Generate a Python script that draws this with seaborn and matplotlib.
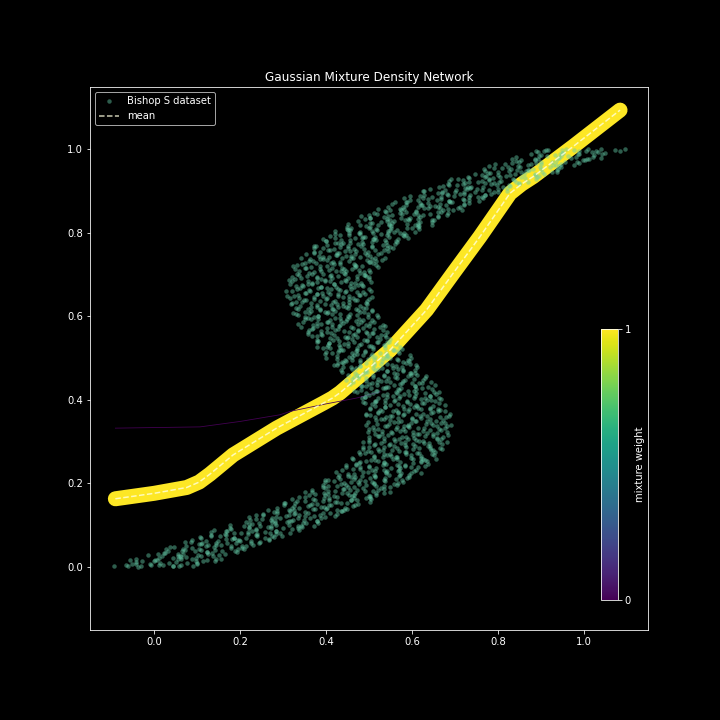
import matplotlib
matplotlib.use("Agg")
import matplotlib.pyplot as plt
import seaborn as sns
import numpy as np
import pandas as pd
from matplotlib.cm import ScalarMappable
from matplotlib.colors import Normalize

# ---------------- data ----------------
# Bishop S dataset points, in thousandths (part 1)
dataset_x_milli_1 = [
    -93, -61, -38, -7, 12, 44, 58, 91,
    -52, -43, 0, 14, 50, 62, 99, 113,
    -41, 3, 11, 55, 63, 97, 124, 155,
    9, 22, 60, 67, 103, 134, 138, 165,
    27, 64, 73, 104, 124, 142, 188, 210,
    47, 74, 110, 121, 145, 179, 204, 231,
    86, 112, 121, 169, 194, 201, 225, 247,
    108, 132, 167, 185, 213, 240, 267, 280,
    132, 164, 187, 218, 237, 269, 283, 316,
    170, 179, 222, 236, 272, 284, 321, 335,
    177, 221, 229, 273, 281, 315, 342, 373,
    224, 237, 275, 282, 318, 349, 353, 380,
    237, 274, 283, 314, 334, 352, 398, 420,
    253, 280, 316, 327, 351, 385, 410, 437,
    287, 313, 322, 370, 395, 402, 426, 448,
    303, 327, 362, 380, 408, 435, 462, 475,
    320, 352, 375, 406, 425, 457, 471, 504,
    352, 361, 404, 418, 454, 466, 503, 517,
    352, 396, 404, 448, 456, 490, 517, 548,
    392, 405, 443, 450, 486, 517, 521, 548,
    397, 434, 443, 474, 494, 512, 558, 580,
    405, 432, 468, 479, 503, 537, 562, 589,
    431, 457, 466, 514, 539, 546, 570, 592,
    438, 462, 497, 515, 543, 570, 597, 610,
    446, 478, 501, 532, 551, 583, 597, 630,
    469, 478, 521, 535, 571, 583, 620, 634,
    460, 504, 512, 556, 564, 598, 625, 656,
    491, 504, 542, 549, 585, 616, 620, 647,
    487, 524, 533, 564, 584, 602, 648, 670,
    485, 512, 548, 559, 583, 617, 642, 669,
    501, 527, 536, 584, 609, 616, 640, 662,
    499, 523, 558, 576, 604, 631, 658, 671,
    498, 530, 553, 584, 603, 635, 649, 682,
    512, 521, 564, 578, 614, 626, 663, 677,
    494, 538, 546, 590, 598, 632, 659, 690,
    516, 529, 567, 574, 610, 641, 645, 672,
    503, 540, 549, 580, 600, 618, 664, 686,
    493, 520, 556, 567, 591, 625, 650, 677,
    503, 525, 538, 581, 611, 614, 643, 660,
    491, 515, 550, 568, 596, 623, 650, 663,
    483, 515, 538, 569, 588, 620, 634, 667,
    490, 499, 542, 556, 592, 604, 641, 655,
    466, 510, 518, 562, 570, 604, 631, 662,
    481, 494, 532, 539, 575, 606, 610, 637,
    462, 499, 508, 539, 559, 577, 623, 645,
    447, 474, 510, 521, 545, 579, 604, 631,
    451, 477, 486, 534, 559, 566, 590, 612,
    436, 460, 495, 513, 541, 568, 595, 608,
    425, 457, 480, 511, 530, 562, 576, 609,
    428, 437, 480, 494, 530, 542, 579, 593,
    401, 445, 453, 497, 505, 539, 566, 597,
    414, 427, 465, 472, 508, 539, 543, 570,
    394, 431, 440, 471, 491, 509, 555, 577,
    378, 405, 441, 452, 476, 510, 535, 562,
    381, 407, 416, 464, 489, 496, 520, 542,
    367, 391, 426, 444, 472, 499, 526, 539,
    357, 389, 412, 443, 462, 494, 508, 541,
    361, 370, 413, 427, 463, 475, 512, 526,
    336, 380, 388, 432, 440, 474, 501, 532,
    352, 365, 403, 410, 446, 477, 481, 508,
    336, 373, 382, 413, 433, 451, 497, 519,
    323, 350, 386, 397, 421, 455, 480, 507,
    331, 357, 366, 414, 439, 446, 470, 492,
    321, 345, 380, 398, 426, 453, 480, 493,
    316, 348, 371, 402, 421, 453, 467, 500,
    326, 335, 378, 392, 428, 440, 477, 491,
    308, 352, 360, 404, 412, 446, 473, 504,
    330, 343, 381, 388, 424, 455, 459, 486,
    321, 358, 367, 398, 418, 436, 482, 504,
    315, 342, 378, 389, 413, 447, 472, 499,
    333, 355, 368, 411, 441, 444, 473, 490,
    329, 353, 388, 406, 434, 461, 488, 501,
    332, 364, 387, 418, 437, 469, 483, 516,
    351, 360, 403, 417, 453, 465, 502, 516,
    342, 386, 394, 438, 446, 480, 507, 538,
    373, 386, 424, 431, 467, 498, 502, 529,
    373, 410, 419, 450, 470, 488, 534, 556,
    376, 403, 439, 450, 474, 508, 533, 560,
    401, 427, 436, 484, 509, 516, 540, 562,
    409, 433, 468, 486, 514, 541, 568, 581,
    422, 454, 477, 508, 527, 559, 573, 606,
    450, 459, 502, 516, 552, 564, 601, 615,
    450, 494, 502, 546, 554, 588, 615, 646,
    490, 503, 541, 548, 584, 615, 619, 646,
    499, 536, 545, 576, 596, 614, 660, 682,
    511, 538, 574, 585, 609, 643, 668, 695,
    545, 571, 580, 628, 653, 660, 684, 706,
    561, 585, 620, 638, 666, 693, 720, 733,
    582, 614, 637, 668, 687, 719, 733, 766,
    618, 627, 670, 684, 720, 732, 769, 783,
    625, 669, 677, 721, 729, 763, 790, 821,
    672, 685, 723, 730, 766, 797, 801, 828,
    687, 724, 733, 764, 784, 802, 848, 870,
    706, 733, 769, 780, 804, 838, 863, 890,
    746, 772, 781, 829, 854, 861, 885, 907,
    767, 791, 826, 844, 872, 899, 926, 939,
    792, 824, 847, 878, 897, 929, 943, 976,
    833, 842, 885, 899, 935, 947, 984, 998,
    843, 887, 895, 939, 947, 981, 1008, 1039,
    894, 907, 945, 952, 988, 1019, 1023, 1050,
    912, 949, 958, 989, 1009, 1027, 1073, 1095,
]
dataset_y_milli_1 = [
    3, 2, 0, 4, 4, 1, 1, 2,
    7, 11, 14, 9, 12, 5, 10, 13,
    20, 16, 22, 18, 24, 21, 17, 19,
    32, 34, 27, 30, 29, 33, 25, 31,
    43, 38, 40, 44, 36, 41, 39, 42,
    47, 51, 54, 49, 52, 45, 50, 53,
    60, 56, 62, 58, 64, 61, 57, 59,
    72, 74, 67, 70, 69, 73, 65, 71,
    83, 78, 80, 84, 76, 81, 79, 82,
    87, 91, 94, 89, 92, 85, 90, 93,
    100, 96, 102, 98, 104, 101, 97, 99,
    112, 114, 107, 110, 109, 113, 105, 111,
    123, 118, 120, 124, 116, 121, 119, 122,
    127, 131, 134, 129, 132, 125, 130, 133,
    140, 136, 142, 138, 144, 141, 137, 139,
    152, 154, 147, 150, 149, 153, 145, 151,
    163, 158, 160, 164, 156, 161, 159, 162,
    167, 171, 174, 169, 172, 165, 170, 173,
    180, 176, 182, 178, 184, 181, 177, 179,
    192, 194, 187, 190, 189, 193, 185, 191,
    203, 198, 200, 204, 196, 201, 199, 202,
    207, 211, 214, 209, 212, 205, 210, 213,
    220, 216, 222, 218, 224, 221, 217, 219,
    232, 234, 227, 230, 229, 233, 225, 231,
    243, 238, 240, 244, 236, 241, 239, 242,
    247, 251, 254, 249, 252, 245, 250, 253,
    260, 256, 262, 258, 264, 261, 257, 259,
    272, 274, 267, 270, 269, 273, 265, 271,
    283, 278, 280, 284, 276, 281, 279, 282,
    287, 291, 294, 289, 292, 285, 290, 293,
    300, 296, 302, 298, 304, 301, 297, 299,
    312, 314, 307, 310, 309, 313, 305, 311,
    323, 318, 320, 324, 316, 321, 319, 322,
    327, 331, 334, 329, 332, 325, 330, 333,
    340, 336, 342, 338, 344, 341, 337, 339,
    352, 354, 347, 350, 349, 353, 345, 351,
    363, 358, 360, 364, 356, 361, 359, 362,
    367, 371, 374, 369, 372, 365, 370, 373,
    380, 376, 382, 378, 384, 381, 377, 379,
    392, 394, 387, 390, 389, 393, 385, 391,
    403, 398, 400, 404, 396, 401, 399, 402,
    407, 411, 414, 409, 412, 405, 410, 413,
    420, 416, 422, 418, 424, 421, 417, 419,
    432, 434, 427, 430, 429, 433, 425, 431,
    443, 438, 440, 444, 436, 441, 439, 442,
    447, 451, 454, 449, 452, 445, 450, 453,
    460, 456, 462, 458, 464, 461, 457, 459,
    472, 474, 467, 470, 469, 473, 465, 471,
    483, 478, 480, 484, 476, 481, 479, 482,
    487, 491, 494, 489, 492, 485, 490, 493,
    500, 496, 502, 498, 504, 501, 497, 499,
    512, 514, 507, 510, 509, 513, 505, 511,
    523, 518, 520, 524, 516, 521, 519, 522,
    527, 531, 534, 529, 532, 525, 530, 533,
    540, 536, 542, 538, 544, 541, 537, 539,
    552, 554, 547, 550, 549, 553, 545, 551,
    563, 558, 560, 564, 556, 561, 559, 562,
    567, 571, 574, 569, 572, 565, 570, 573,
    580, 576, 582, 578, 584, 581, 577, 579,
    592, 594, 587, 590, 589, 593, 585, 591,
    603, 598, 600, 604, 596, 601, 599, 602,
    607, 611, 614, 609, 612, 605, 610, 613,
    620, 616, 622, 618, 624, 621, 617, 619,
    632, 634, 627, 630, 629, 633, 625, 631,
    643, 638, 640, 644, 636, 641, 639, 642,
    647, 651, 654, 649, 652, 645, 650, 653,
    660, 656, 662, 658, 664, 661, 657, 659,
    672, 674, 667, 670, 669, 673, 665, 671,
    683, 678, 680, 684, 676, 681, 679, 682,
    687, 691, 694, 689, 692, 685, 690, 693,
    700, 696, 702, 698, 704, 701, 697, 699,
    712, 714, 707, 710, 709, 713, 705, 711,
    723, 718, 720, 724, 716, 721, 719, 722,
    727, 731, 734, 729, 732, 725, 730, 733,
    740, 736, 742, 738, 744, 741, 737, 739,
    752, 754, 747, 750, 749, 753, 745, 751,
    763, 758, 760, 764, 756, 761, 759, 762,
    767, 771, 774, 769, 772, 765, 770, 773,
    780, 776, 782, 778, 784, 781, 777, 779,
    792, 794, 787, 790, 789, 793, 785, 791,
    803, 798, 800, 804, 796, 801, 799, 802,
    807, 811, 814, 809, 812, 805, 810, 813,
    820, 816, 822, 818, 824, 821, 817, 819,
    832, 834, 827, 830, 829, 833, 825, 831,
    843, 838, 840, 844, 836, 841, 839, 842,
    847, 851, 854, 849, 852, 845, 850, 853,
    860, 856, 862, 858, 864, 861, 857, 859,
    872, 874, 867, 870, 869, 873, 865, 871,
    883, 878, 880, 884, 876, 881, 879, 882,
    887, 891, 894, 889, 892, 885, 890, 893,
    900, 896, 902, 898, 904, 901, 897, 899,
    912, 914, 907, 910, 909, 913, 905, 911,
    923, 918, 920, 924, 916, 921, 919, 922,
    927, 931, 934, 929, 932, 925, 930, 933,
    940, 936, 942, 938, 944, 941, 937, 939,
    952, 954, 947, 950, 949, 953, 945, 951,
    963, 958, 960, 964, 956, 961, 959, 962,
    967, 971, 974, 969, 972, 965, 970, 973,
    980, 976, 982, 978, 984, 981, 977, 979,
    992, 994, 987, 990, 989, 993, 985, 991,
    997, 998, 1000, 996, 999, 995, 998, 1000,
]

# Bishop S dataset points, in thousandths (part 2)
dataset_x_milli_2 = [
    -65, -43, -30, -10, 21, 43, 77, 100,
    -55, -27, 7, 34, 62, 89, 97, 142,
    -14, 19, 45, 55, 75, 110, 143, 152,
    25, 32, 55, 95, 122, 126, 159, 193,
    37, 67, 89, 109, 140, 178, 196, 205,
    73, 104, 126, 144, 156, 190, 213, 245,
    89, 110, 149, 182, 198, 225, 258, 267,
    132, 154, 167, 187, 218, 240, 274, 297,
    140, 168, 202, 229, 257, 284, 292, 337,
    177, 210, 236, 246, 266, 301, 334, 343,
    213, 220, 243, 283, 310, 314, 347, 381,
    221, 251, 273, 293, 324, 362, 380, 389,
    254, 285, 307, 325, 337, 371, 394, 426,
    265, 286, 325, 358, 374, 401, 434, 443,
    303, 325, 338, 358, 389, 411, 445, 468,
    305, 333, 367, 394, 422, 449, 457, 502,
    337, 370, 396, 406, 426, 461, 494, 503,
    367, 374, 397, 437, 464, 468, 501, 535,
    368, 398, 420, 440, 471, 509, 527, 536,
    394, 425, 447, 465, 477, 511, 534, 566,
    398, 419, 458, 491, 507, 534, 567, 576,
    429, 451, 464, 484, 515, 537, 571, 594,
    423, 451, 485, 512, 540, 567, 575, 620,
    447, 480, 506, 516, 536, 571, 604, 613,
    469, 476, 499, 539, 566, 570, 603, 637,
    462, 492, 514, 534, 565, 603, 621, 630,
    480, 511, 533, 551, 563, 597, 620, 652,
    476, 497, 536, 569, 585, 612, 645, 654,
    499, 521, 534, 554, 585, 607, 641, 664,
    485, 513, 547, 574, 602, 629, 637, 682,
    501, 534, 560, 570, 590, 625, 658, 667,
    515, 522, 545, 585, 612, 616, 649, 683,
    500, 530, 552, 572, 603, 641, 659, 668,
    510, 541, 563, 581, 593, 627, 650, 682,
    498, 519, 558, 591, 607, 634, 667, 676,
    513, 535, 548, 568, 599, 621, 655, 678,
    492, 520, 554, 581, 609, 636, 644, 689,
    503, 531, 562, 568, 593, 622, 660, 665,
    508, 515, 538, 578, 605, 609, 642, 676,
    486, 516, 538, 558, 589, 627, 645, 654,
    490, 521, 543, 561, 573, 607, 630, 662,
    473, 494, 533, 566, 582, 609, 642, 651,
    482, 504, 517, 537, 568, 590, 624, 647,
    456, 484, 518, 545, 573, 600, 608, 653,
    460, 493, 519, 529, 549, 584, 617, 626,
    464, 471, 494, 534, 561, 565, 598, 632,
    438, 468, 490, 510, 541, 579, 597, 606,
    439, 470, 492, 510, 522, 556, 579, 611,
    418, 439, 478, 511, 527, 554, 587, 596,
    425, 447, 460, 480, 511, 533, 567, 590,
    398, 426, 460, 487, 515, 542, 550, 595,
    401, 434, 460, 470, 490, 525, 558, 567,
    403, 410, 433, 473, 500, 504, 537, 571,
    378, 408, 430, 450, 481, 519, 537, 546,
    378, 409, 431, 449, 461, 495, 518, 550,
    359, 380, 419, 452, 468, 495, 528, 537,
    367, 389, 402, 422, 453, 475, 509, 532,
    341, 369, 403, 430, 458, 485, 493, 538,
    346, 379, 405, 415, 435, 470, 503, 512,
    352, 359, 382, 422, 449, 453, 486, 520,
    330, 360, 382, 402, 433, 471, 489, 498,
    334, 365, 387, 405, 417, 451, 474, 506,
    318, 339, 378, 411, 427, 454, 487, 496,
    331, 353, 366, 386, 417, 439, 473, 496,
    310, 338, 372, 399, 427, 454, 462, 507,
    321, 354, 380, 390, 410, 445, 478, 487,
    332, 339, 362, 402, 429, 433, 466, 500,
    316, 346, 368, 388, 419, 457, 475, 484,
    327, 358, 380, 398, 410, 444, 467, 499,
    320, 337, 380, 409, 429, 452, 489, 494,
    338, 360, 373, 393, 424, 446, 480, 503,
    324, 352, 386, 413, 441, 468, 476, 521,
    343, 376, 402, 412, 432, 467, 500, 509,
    362, 369, 392, 432, 459, 463, 496, 530,
    354, 384, 406, 426, 457, 495, 513, 522,
    373, 404, 426, 444, 456, 490, 513, 545,
    372, 393, 432, 465, 481, 508, 541, 550,
    400, 422, 435, 455, 486, 508, 542, 565,
    394, 422, 456, 483, 511, 538, 546, 591,
    421, 454, 480, 490, 510, 545, 578, 587,
    448, 455, 478, 518, 545, 549, 582, 616,
    448, 478, 500, 520, 551, 589, 607, 616,
    475, 506, 528, 546, 558, 592, 615, 647,
    482, 503, 542, 575, 591, 618, 651, 660,
    518, 540, 553, 573, 604, 626, 660, 683,
    520, 548, 582, 609, 637, 664, 672, 717,
    554, 587, 613, 623, 643, 678, 711, 720,
    588, 595, 618, 658, 685, 689, 722, 756,
    595, 625, 647, 667, 698, 736, 754, 763,
    629, 660, 682, 700, 712, 746, 769, 801,
    642, 663, 702, 735, 751, 778, 811, 820,
    683, 705, 718, 738, 769, 791, 825, 848,
    691, 719, 753, 780, 808, 835, 843, 888,
    730, 763, 789, 799, 819, 854, 887, 896,
    769, 776, 799, 839, 866, 870, 903, 937,
    779, 809, 831, 851, 882, 920, 938, 947,
    817, 848, 870, 888, 900, 934, 957, 989,
    833, 854, 893, 926, 942, 969, 1002, 1011,
    878, 900, 913, 933, 964, 986, 1020, 1043,
    888, 916, 950, 977, 1005, 1032, 1040, 1085,
]
dataset_y_milli_2 = [
    4, 8, 1, 7, 5, 2, 9, 6,
    17, 13, 16, 10, 18, 19, 14, 15,
    29, 25, 22, 26, 23, 27, 20, 28,
    34, 38, 31, 37, 35, 32, 39, 36,
    47, 43, 46, 40, 48, 49, 44, 45,
    59, 55, 52, 56, 53, 57, 50, 58,
    64, 68, 61, 67, 65, 62, 69, 66,
    77, 73, 76, 70, 78, 79, 74, 75,
    89, 85, 82, 86, 83, 87, 80, 88,
    94, 98, 91, 97, 95, 92, 99, 96,
    107, 103, 106, 100, 108, 109, 104, 105,
    119, 115, 112, 116, 113, 117, 110, 118,
    124, 128, 121, 127, 125, 122, 129, 126,
    137, 133, 136, 130, 138, 139, 134, 135,
    149, 145, 142, 146, 143, 147, 140, 148,
    154, 158, 151, 157, 155, 152, 159, 156,
    167, 163, 166, 160, 168, 169, 164, 165,
    179, 175, 172, 176, 173, 177, 170, 178,
    184, 188, 181, 187, 185, 182, 189, 186,
    197, 193, 196, 190, 198, 199, 194, 195,
    209, 205, 202, 206, 203, 207, 200, 208,
    214, 218, 211, 217, 215, 212, 219, 216,
    227, 223, 226, 220, 228, 229, 224, 225,
    239, 235, 232, 236, 233, 237, 230, 238,
    244, 248, 241, 247, 245, 242, 249, 246,
    257, 253, 256, 250, 258, 259, 254, 255,
    269, 265, 262, 266, 263, 267, 260, 268,
    274, 278, 271, 277, 275, 272, 279, 276,
    287, 283, 286, 280, 288, 289, 284, 285,
    299, 295, 292, 296, 293, 297, 290, 298,
    304, 308, 301, 307, 305, 302, 309, 306,
    317, 313, 316, 310, 318, 319, 314, 315,
    329, 325, 322, 326, 323, 327, 320, 328,
    334, 338, 331, 337, 335, 332, 339, 336,
    347, 343, 346, 340, 348, 349, 344, 345,
    359, 355, 352, 356, 353, 357, 350, 358,
    364, 368, 361, 367, 365, 362, 369, 366,
    377, 373, 376, 370, 378, 379, 374, 375,
    389, 385, 382, 386, 383, 387, 380, 388,
    394, 398, 391, 397, 395, 392, 399, 396,
    407, 403, 406, 400, 408, 409, 404, 405,
    419, 415, 412, 416, 413, 417, 410, 418,
    424, 428, 421, 427, 425, 422, 429, 426,
    437, 433, 436, 430, 438, 439, 434, 435,
    449, 445, 442, 446, 443, 447, 440, 448,
    454, 458, 451, 457, 455, 452, 459, 456,
    467, 463, 466, 460, 468, 469, 464, 465,
    479, 475, 472, 476, 473, 477, 470, 478,
    484, 488, 481, 487, 485, 482, 489, 486,
    497, 493, 496, 490, 498, 499, 494, 495,
    509, 505, 502, 506, 503, 507, 500, 508,
    514, 518, 511, 517, 515, 512, 519, 516,
    527, 523, 526, 520, 528, 529, 524, 525,
    539, 535, 532, 536, 533, 537, 530, 538,
    544, 548, 541, 547, 545, 542, 549, 546,
    557, 553, 556, 550, 558, 559, 554, 555,
    569, 565, 562, 566, 563, 567, 560, 568,
    574, 578, 571, 577, 575, 572, 579, 576,
    587, 583, 586, 580, 588, 589, 584, 585,
    599, 595, 592, 596, 593, 597, 590, 598,
    604, 608, 601, 607, 605, 602, 609, 606,
    617, 613, 616, 610, 618, 619, 614, 615,
    629, 625, 622, 626, 623, 627, 620, 628,
    634, 638, 631, 637, 635, 632, 639, 636,
    647, 643, 646, 640, 648, 649, 644, 645,
    659, 655, 652, 656, 653, 657, 650, 658,
    664, 668, 661, 667, 665, 662, 669, 666,
    677, 673, 676, 670, 678, 679, 674, 675,
    689, 685, 682, 686, 683, 687, 680, 688,
    694, 698, 691, 697, 695, 692, 699, 696,
    707, 703, 706, 700, 708, 709, 704, 705,
    719, 715, 712, 716, 713, 717, 710, 718,
    724, 728, 721, 727, 725, 722, 729, 726,
    737, 733, 736, 730, 738, 739, 734, 735,
    749, 745, 742, 746, 743, 747, 740, 748,
    754, 758, 751, 757, 755, 752, 759, 756,
    767, 763, 766, 760, 768, 769, 764, 765,
    779, 775, 772, 776, 773, 777, 770, 778,
    784, 788, 781, 787, 785, 782, 789, 786,
    797, 793, 796, 790, 798, 799, 794, 795,
    809, 805, 802, 806, 803, 807, 800, 808,
    814, 818, 811, 817, 815, 812, 819, 816,
    827, 823, 826, 820, 828, 829, 824, 825,
    839, 835, 832, 836, 833, 837, 830, 838,
    844, 848, 841, 847, 845, 842, 849, 846,
    857, 853, 856, 850, 858, 859, 854, 855,
    869, 865, 862, 866, 863, 867, 860, 868,
    874, 878, 871, 877, 875, 872, 879, 876,
    887, 883, 886, 880, 888, 889, 884, 885,
    899, 895, 892, 896, 893, 897, 890, 898,
    904, 908, 901, 907, 905, 902, 909, 906,
    917, 913, 916, 910, 918, 919, 914, 915,
    929, 925, 922, 926, 923, 927, 920, 928,
    934, 938, 931, 937, 935, 932, 939, 936,
    947, 943, 946, 940, 948, 949, 944, 945,
    959, 955, 952, 956, 953, 957, 950, 958,
    964, 968, 961, 967, 965, 962, 969, 966,
    977, 973, 976, 970, 978, 979, 974, 975,
    989, 985, 982, 986, 983, 987, 980, 988,
    994, 998, 991, 997, 995, 992, 999, 996,
]

# mixture component A (weight ~ 1)
comp_a_x = [-0.09, 0.0, 0.076, 0.105, 0.13, 0.157, 0.184, 0.285, 0.394,
            0.415, 0.433, 0.549, 0.634, 0.696, 0.758, 0.828, 0.855, 0.882,
            0.975, 1.084]
comp_a_y = [0.163, 0.176, 0.190, 0.203, 0.222, 0.245, 0.268, 0.332, 0.392,
            0.404, 0.417, 0.519, 0.615, 0.703, 0.790, 0.894, 0.916, 0.934,
            1.006, 1.093]
comp_a_weight = 1.0

# mixture component B (weight ~ 0)
comp_b_x = [-0.09, 0.107, 0.20, 0.293, 0.316, 0.40, 0.471, 0.526]
comp_b_y = [0.332, 0.335, 0.348, 0.364, 0.372, 0.390, 0.404, 0.419]
comp_b_weight = 0.0

# mixture mean
mean_x = comp_a_x
mean_y = comp_a_y

# ---------------- plot ----------------
plt.style.use("dark_background")
plt.rcParams["font.family"] = ["DejaVu Sans"]

fig = plt.figure(figsize=(10, 10), dpi=72)
ax = fig.add_axes([0.125, 0.125, 0.775, 0.754])

cmap = plt.get_cmap("viridis")

df_a = pd.DataFrame({"x": comp_a_x, "y": comp_a_y})
df_b = pd.DataFrame({"x": comp_b_x, "y": comp_b_y})
df_mean = pd.DataFrame({"x": mean_x, "y": mean_y})
df_data = pd.DataFrame({
    "x": np.array(dataset_x_milli_1 + dataset_x_milli_2) / 1000.0,
    "y": np.array(dataset_y_milli_1 + dataset_y_milli_2) / 1000.0,
})

sns.lineplot(data=df_a, x="x", y="y", sort=False, estimator=None, ax=ax,
             color=cmap(comp_a_weight), linewidth=15, solid_capstyle="round",
             solid_joinstyle="round", legend=False, zorder=1)
sns.lineplot(data=df_b, x="x", y="y", sort=False, estimator=None, ax=ax,
             color=cmap(comp_b_weight), linewidth=0.8, legend=False, zorder=1)

sns.scatterplot(data=df_data, x="x", y="y", ax=ax, color="#66cdaa", alpha=0.45,
                s=20, linewidth=0, label="Bishop S dataset", zorder=2)
sns.lineplot(data=df_mean, x="x", y="y", sort=False, estimator=None, ax=ax,
             color="#ffffe0", alpha=0.8, linewidth=1.5, linestyle="--",
             label="mean", zorder=3)

ax.set_xlim(-0.149, 1.149)
ax.set_ylim(-0.151, 1.148)
ax.set_xticks([0.0, 0.2, 0.4, 0.6, 0.8, 1.0])
ax.set_yticks([0.0, 0.2, 0.4, 0.6, 0.8, 1.0])
ax.set_xlabel("")
ax.set_ylabel("")
ax.tick_params(labelsize=10)
ax.set_title("Gaussian Mixture Density Network", fontsize=12)
ax.grid(False)

leg = ax.legend(loc="upper left", fontsize=10, facecolor="black",
                edgecolor="#cccccc", framealpha=0.8)

cax = ax.inset_axes([0.916, 0.055, 0.03, 0.5])
sm = ScalarMappable(norm=Normalize(0, 1), cmap=cmap)
cb = fig.colorbar(sm, cax=cax, ticks=[0, 1])
cb.set_label("mixture weight", fontsize=10)
cb.ax.tick_params(labelsize=10)
cb.outline.set_edgecolor("white")

fig.savefig("out.png", dpi=72, facecolor="black")
